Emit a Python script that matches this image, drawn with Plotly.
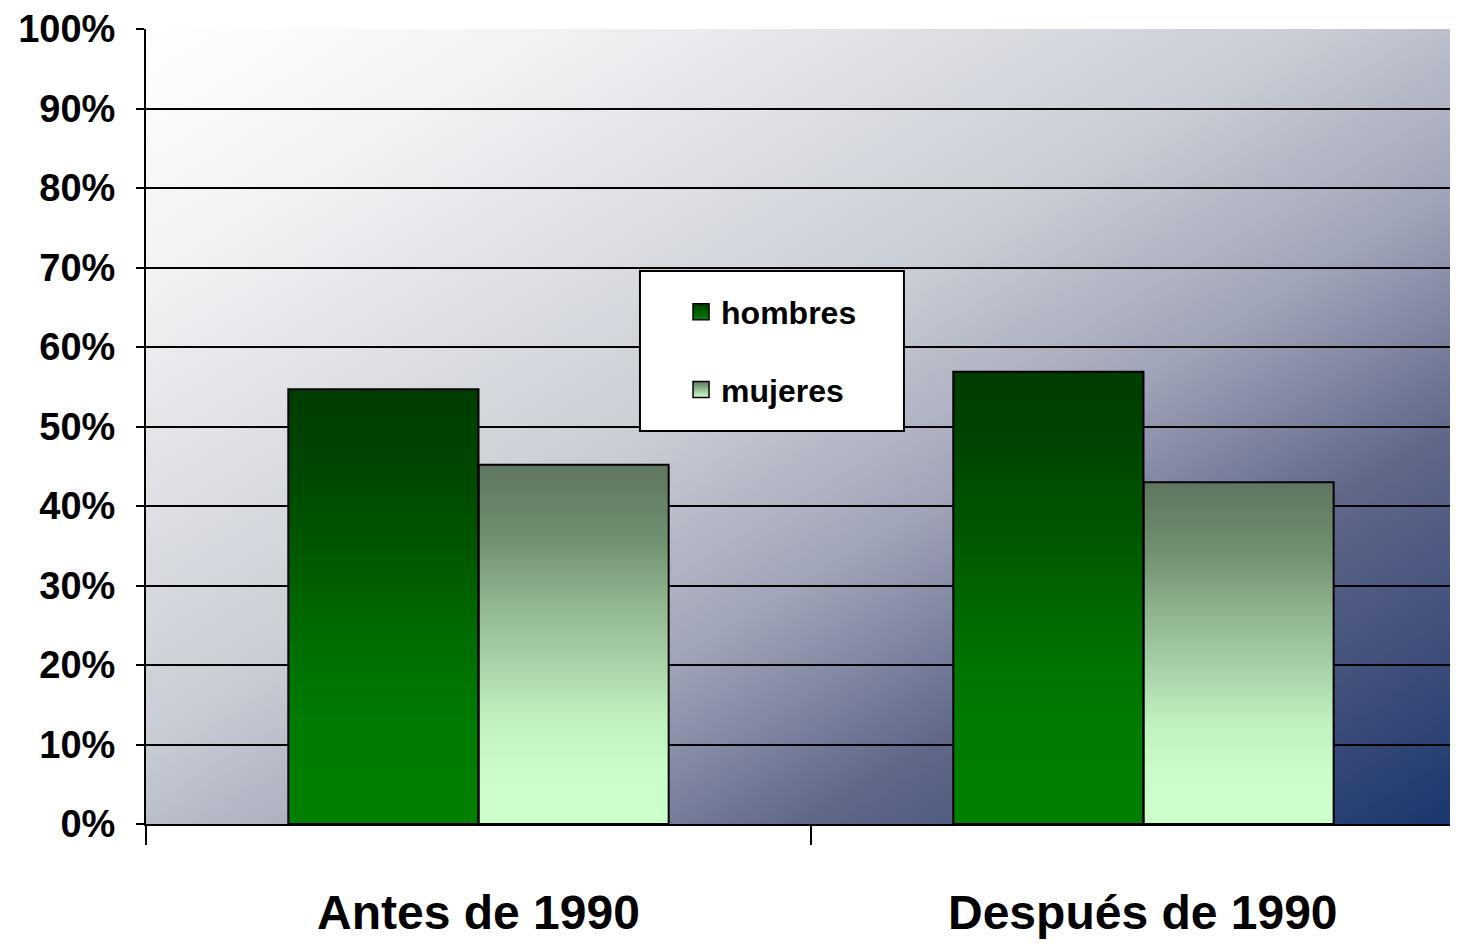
import base64
import numpy as np
import plotly.graph_objects as go

# ---- data ----
categories = ["Antes de 1990", "Después de 1990"]
hombres = [0.547, 0.569]
mujeres = [0.452, 0.430]
series_names = ["hombres", "mujeres"]
y_ticks = [0, 0.1, 0.2, 0.3, 0.4, 0.5, 0.6, 0.7, 0.8, 0.9, 1.0]

# ---- styles ----
FONT = "Liberation Sans, Arial, sans-serif"
BAR_W = 0.286
N_ROWS = 120
scale_h = [[0, "#008000"], [0.21, "#007c00"], [0.36, "#007200"], [0.51, "#006400"],
           [0.67, "#005400"], [0.82, "#004600"], [1, "#003c00"]]
scale_m = [[0, "#ccffcc"], [0.15, "#cafdca"], [0.3, "#bff0bf"], [0.43, "#acd6ac"],
           [0.62, "#90b490"], [0.8, "#708e70"], [1, "#5f775f"]]

x_idx = list(range(len(categories)))

fig = go.Figure()


def add_gradient_bar(xc, value, offset, scale):
    edges_y = np.linspace(0, value, N_ROWS + 1)
    frac = ((edges_y[:-1] + edges_y[1:]) / 2 / value).reshape(-1, 1)
    fig.add_trace(go.Heatmap(
        x=[xc + offset, xc + offset + BAR_W], y=edges_y, z=frac,
        colorscale=scale, zmin=0, zmax=1, showscale=False, hoverinfo="skip",
    ))


for i, v in zip(x_idx, hombres):
    add_gradient_bar(i, v, -BAR_W, scale_h)
for i, v in zip(x_idx, mujeres):
    add_gradient_bar(i, v, 0, scale_m)

# bar outlines
fig.add_trace(go.Bar(x=x_idx, y=hombres, width=BAR_W, offset=-BAR_W, name=series_names[0],
                     marker=dict(color="rgba(0,0,0,0)", line=dict(color="black", width=2)),
                     showlegend=False))
fig.add_trace(go.Bar(x=x_idx, y=mujeres, width=BAR_W, offset=0, name=series_names[1],
                     marker=dict(color="rgba(0,0,0,0)", line=dict(color="black", width=2)),
                     showlegend=False))

# legend entries
fig.add_trace(go.Scatter(x=[None], y=[None], mode="markers", name=series_names[0], legendgroup="a",
                         marker=dict(symbol="square", size=16, color="#003c00",
                                     gradient=dict(type="vertical", color="#008000"),
                                     line=dict(color="black", width=1.5))))
fig.add_trace(go.Scatter(x=[None], y=[None], mode="markers", name=series_names[1], legendgroup="b",
                         marker=dict(symbol="square", size=16, color="#5f775f",
                                     gradient=dict(type="vertical", color="#ccffcc"),
                                     line=dict(color="black", width=1.5))))

# background gradient image
stops = [(0, "#ffffff"), (0.15, "#f3f3f5"), (0.45, "#c8ccd4"), (0.6, "#a0a4b8"),
         (0.75, "#60688a"), (0.9, "#3a4a78"), (1.0, "#17376e")]
stop_xml = "".join(f'<stop offset="{o}" stop-color="{c}"/>' for o, c in stops)
svg = ('<svg xmlns="http://www.w3.org/2000/svg" width="1312" height="795" viewBox="0 0 1312 795" '
       'preserveAspectRatio="none"><defs><linearGradient id="g" x1="0" y1="0" x2="1" y2="1">'
       f'{stop_xml}</linearGradient></defs><rect width="1312" height="795" fill="url(#g)"/></svg>')
uri = "data:image/svg+xml;base64," + base64.b64encode(svg.encode()).decode()

fig.update_layout(
    width=1450, height=936,
    margin=dict(l=138, r=0, t=21, b=120),
    paper_bgcolor="white", plot_bgcolor="rgba(0,0,0,0)",
    font=dict(family=FONT, color="black"),
    images=[dict(source=uri, xref="paper", yref="paper", x=0, y=1, sizex=1, sizey=1,
                 sizing="stretch", xanchor="left", yanchor="top", layer="below")],
    xaxis=dict(range=[-0.5, 1.473], tickvals=[-0.5, 0.5, 1.5], showticklabels=False,
               ticks="outside", ticklen=19, tickwidth=1.5, tickcolor="black", automargin=False,
               showgrid=False, zeroline=False, showline=True, linecolor="black", linewidth=2),
    yaxis=dict(range=[0, 1], tickvals=y_ticks, tickformat=".0%", automargin=False,
               ticks="outside", ticklen=8, tickwidth=2, tickcolor="black",
               tickfont=dict(family=FONT, size=38, weight="bold"), ticklabelstandoff=13,
               showgrid=True, gridcolor="black", gridwidth=2,
               zeroline=False, showline=True, linecolor="black", linewidth=2),
    showlegend=True,
    legend=dict(x=0.4078, y=0.6786, xanchor="left", yanchor="top", bgcolor="rgba(0,0,0,0)",
                borderwidth=0, font=dict(family=FONT, size=32, weight="bold"),
                tracegroupgap=33, traceorder="grouped"),
    shapes=[dict(type="rect", xref="paper", yref="paper", x0=0.3765, x1=0.5777, y0=0.4943, y1=0.6956,
                 fillcolor="white", line=dict(color="black", width=2), layer="above")],
)

for i, c in zip(x_idx, categories):
    fig.add_annotation(x=i, y=-0.111, xref="x", yref="paper", text=c, showarrow=False,
                       xanchor="center", yanchor="middle",
                       font=dict(family=FONT, size=48, weight="bold"))

fig.write_html("out.html")
